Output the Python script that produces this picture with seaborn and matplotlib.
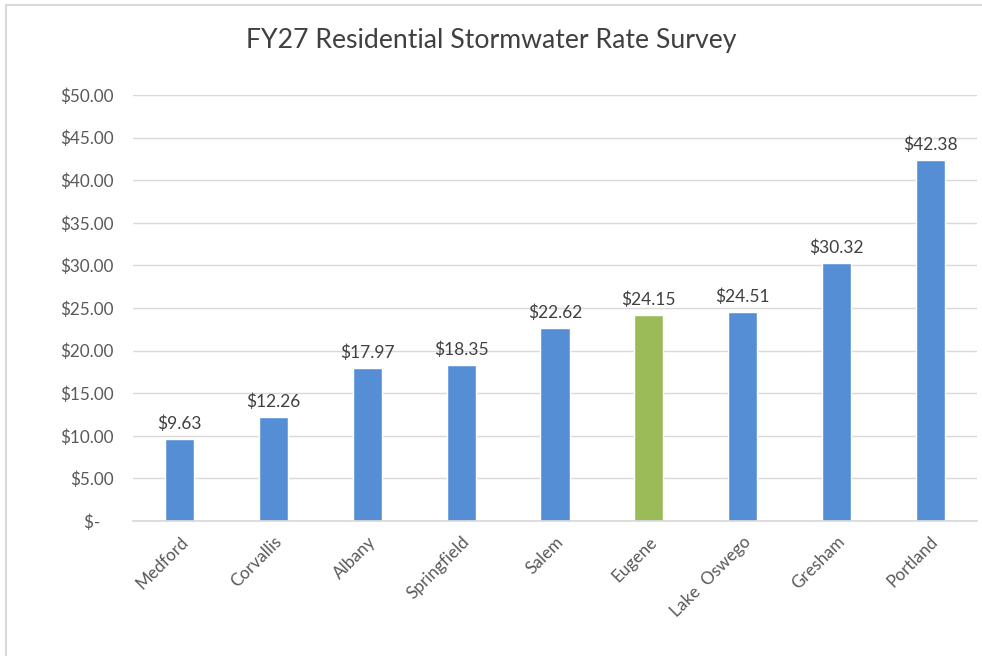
import matplotlib
matplotlib.use("Agg")
import matplotlib.pyplot as plt
from matplotlib.lines import Line2D
import seaborn as sns
import pandas as pd

# Data
cities = ["Medford", "Corvallis", "Albany", "Springfield", "Salem",
          "Eugene", "Lake  Oswego", "Gresham", "Portland"]
rates = [9.63, 12.26, 17.97, 18.35, 22.62, 24.15, 24.51, 30.32, 42.38]
y_ticks = [0, 5, 10, 15, 20, 25, 30, 35, 40, 45, 50]

blue = "#558ED5"
green = "#9BBB59"
colors = [green if c == "Eugene" else blue for c in cities]

df = pd.DataFrame({"City": cities, "Rate": rates})

sns.set_theme(style="white")
plt.rcParams["font.family"] = ["Lato", "DejaVu Sans"]

fig = plt.figure(figsize=(9.82, 6.56), dpi=100)
ax = fig.add_axes([0.1354, 0.2058, 0.8595, 0.6494])

sns.barplot(data=df, x="City", y="Rate", hue="City", palette=colors,
            legend=False, width=0.31, saturation=1, ax=ax)

# Value labels
for cont in ax.containers:
    ax.bar_label(cont, labels=[f"${v.get_height():.2f}" for v in cont],
                 padding=5, fontsize=12.5, color="#404040")

ax.set_ylim(0, 50)
ax.set_yticks(y_ticks)
ax.set_yticklabels([f"${v:.2f}" if v > 0 else "$-   " for v in y_ticks])
ax.yaxis.grid(True, color="#D9D9D9", linewidth=1)
ax.set_axisbelow(True)
ax.set_xlabel("")
ax.set_ylabel("")
for s in ["top", "right", "left"]:
    ax.spines[s].set_visible(False)
ax.spines["bottom"].set_color("#D9D9D9")
ax.tick_params(axis="both", length=0, labelsize=12.3, labelcolor="#595959")
ax.tick_params(axis="y", pad=14)
ax.tick_params(axis="x", pad=9)
plt.setp(ax.get_xticklabels(), rotation=45, ha="right", rotation_mode="anchor")

fig.suptitle("FY27 Residential Stormwater Rate Survey", y=0.957,
             fontsize=19.2, color="#404040")

# chart border (top and left)
fig.add_artist(Line2D([0.006, 1.0], [0.992, 0.992], color="#D9D9D9", lw=1.5))
fig.add_artist(Line2D([0.006, 0.006], [0.0, 0.992], color="#D9D9D9", lw=1.5))

fig.savefig("out.png", dpi=100)
